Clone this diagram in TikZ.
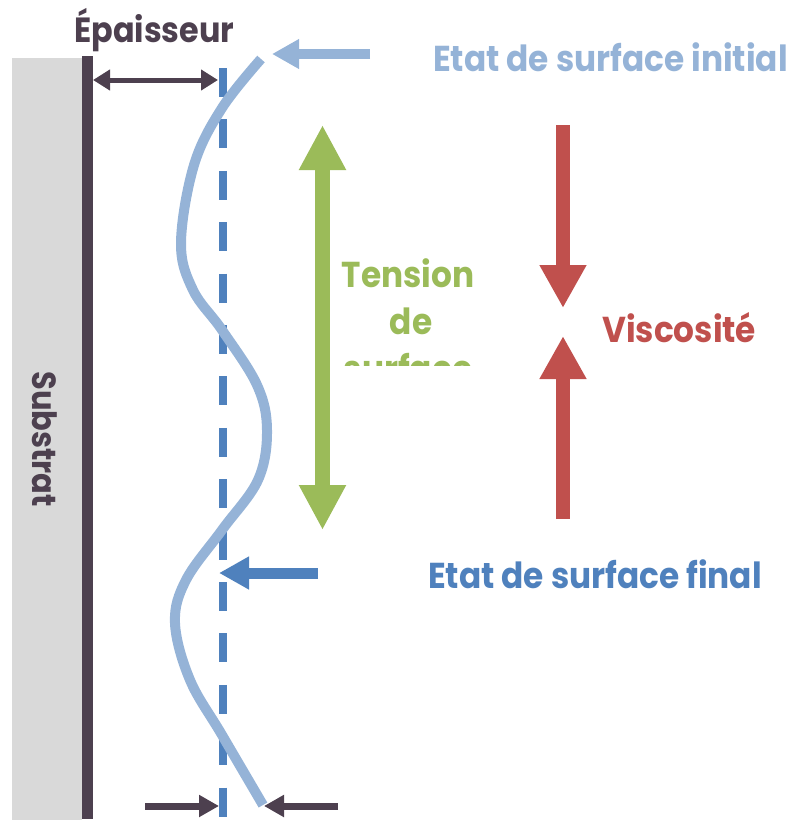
\documentclass[tikz,border=0pt]{standalone}
\usepackage{fontspec}
\setmainfont[FakeStretch=0.91]{Poppins}
\usepackage{tikz}
\usetikzlibrary{arrows.meta}
\usepackage{tkz-euclide}

\definecolor{sombre}{RGB}{77,64,79}
\definecolor{gris}{RGB}{217,217,217}
\definecolor{bleuclair}{RGB}{149,179,215}
\definecolor{bleu}{RGB}{79,129,189}
\definecolor{vert}{RGB}{155,187,89}
\definecolor{rouge}{RGB}{192,80,77}

\begin{document}
\begin{tikzpicture}[x=1pt, y=-1pt,
    etiquette/.style={font=\bfseries\fontsize{36}{40}\selectfont, inner sep=0pt, anchor=base west},
    cote/.style={sombre, line width=#1}]
            \useasboundingbox (0,0) rectangle (800,828);
            \tkzDefPoints{12/58/S_1, 82/820/S_2, 87.5/56/L_1, 87.5/819/L_2,
                93/80/E_1, 218/80/E_2, 223/68/D_1, 223/817/D_2,
                370/54/I_1, 272/54/I_2, 318/573/F_1, 219/573/F_2,
                322.5/125/T_1, 322.5/530/T_2, 563/125/V_1, 563/308/V_2,
                563/519/W_1, 563/336/W_2, 145/806/B_1, 219/806/B_2,
                338/806/C_1, 264/806/C_2}
            % substrat
            \fill[gris] (S_1) rectangle (S_2);
            \draw[cote=11pt] (L_1) -- (L_2);
            \node[etiquette, sombre, rotate=-90, anchor=base, font=\bfseries\fontsize{33.5}{36}\selectfont] (substrat) at (32,439) {Substrat};
            % epaisseur
            \node[etiquette, sombre, font=\bfseries\fontsize{35}{40}\selectfont] (epaisseur) at (74,42) {Épaisseur};
            \draw[cote=5pt, {Triangle[length=17pt,width=20pt]}-{Triangle[length=17pt,width=20pt]}] (E_1) -- (E_2);
            \draw[cote=7pt, -{Triangle[length=20pt,width=21pt]}] (B_1) -- (B_2);
            \draw[cote=7pt, -{Triangle[length=20pt,width=21pt]}] (C_1) -- (C_2);
            % surfaces
            \draw[bleu, line width=7.5pt, dash pattern=on 29pt off 22.4pt] (D_1) -- (D_2);
            \draw[bleuclair, line width=10pt] plot[smooth, tension=0.6] coordinates {(261,59) (222,108)
                (194,165) (181,243) (193,290) (222,330) (257,385) (267,430) (258,480) (222,530)
                (186,580) (175,623) (190,680) (222,735) (263,805)};
            \draw[bleuclair, line width=10pt, -{Triangle[length=27pt,width=28pt]}] (I_1) -- (I_2);
            \node[etiquette, bleuclair] (initial) at (433,71) {Etat de surface initial};
            \draw[bleu, line width=11pt, -{Triangle[length=30pt,width=31pt]}] (F_1) -- (F_2);
            \node[etiquette, bleu] (final) at (428,588) {Etat de surface final};
            % forces
            \draw[vert, line width=15pt, {Triangle[length=45pt,width=44pt]}-{Triangle[length=45pt,width=44pt]}] (T_1) -- (T_2);
            \node[etiquette, vert, anchor=base] (tension) at (408,287) {Tension};
            \node[etiquette, vert, anchor=base] (de) at (411,334) {de};
            \begin{scope}
                \clip (330,340) rectangle (500,365);
                \node[etiquette, vert, anchor=base] (surface) at (408,381) {surface};
            \end{scope}
            \draw[rouge, line width=14pt, -{Triangle[length=43pt,width=44pt]}] (V_1) -- (V_2);
            \draw[rouge, line width=14pt, -{Triangle[length=43pt,width=44pt]}] (W_1) -- (W_2);
            \node[etiquette, rouge] (viscosite) at (602,342) {Viscosité};
        \end{tikzpicture}
\end{document}
